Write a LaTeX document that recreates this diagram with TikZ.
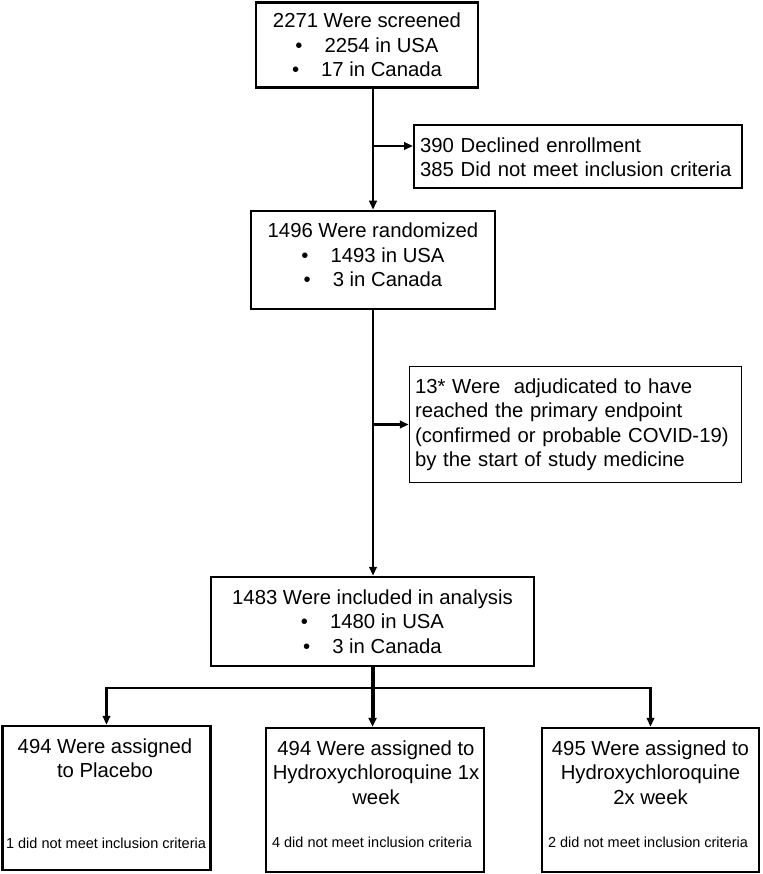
\documentclass[tikz,border=0pt]{standalone}
\usepackage{fontspec}
\setmainfont{Liberation Sans}
\usetikzlibrary{arrows.meta}
\newcommand\bulletline[1]{\textbullet\hspace{22pt}#1}
\begin{document}
\begin{tikzpicture}[x=1pt,y=-1pt,
  box/.style={draw, line width=2.5pt, inner sep=0pt, align=center,
    font=\fontsize{20.3}{24.5}\selectfont},
  lbox/.style={box, align=left},
  txt/.style={inner sep=0pt, align=center, font=\fontsize{20.3}{24.5}\selectfont},
  note/.style={inner sep=0pt, font=\fontsize{14.5}{17}\selectfont},
  conn/.style={line width=2.3pt, -{Triangle[length=9pt,width=7.5pt]}},
  thickconn/.style={line width=4pt, -{Triangle[length=9pt,width=8pt]}},
  ]
\useasboundingbox (0,0) rectangle (762,874);

\node[box, minimum width=222pt, minimum height=85pt] (screen) at (367,45)
  {2271 Were screened\\\bulletline{2254 in USA}\\\bulletline{17 in Canada}};

\node[lbox, line width=2pt, text width=316pt, inner xsep=6pt, minimum height=63pt] (declined) at (578,157)
  {390 Declined enrollment\\385 Did not meet inclusion criteria};

\node[box, minimum width=244pt, minimum height=98pt] (rand) at (373,260) {};
\node[txt] (randt) at (373,255) {1496 Were randomized\\\bulletline{1493 in USA}\\\bulletline{3 in Canada}};

\node[lbox, line width=1.5pt, text width=321pt, inner xsep=5.5pt, minimum height=116pt] (adj) at (575.5,424.5)
  {13* Were \ adjudicated to have\\reached the primary endpoint\\(confirmed or probable COVID-19)\\by the start of study medicine};

\node[box, minimum width=323pt, minimum height=89pt] (incl) at (372.5,621.5)
  {1483 Were included in analysis\\\bulletline{1480 in USA}\\\bulletline{3 in Canada}};

\node[box, minimum width=208pt, minimum height=144pt] (pla) at (106.5,798) {};
\node[box, minimum width=218pt, minimum height=144pt] (hcq1) at (375,800) {};
\node[box, minimum width=217pt, minimum height=144pt] (hcq2) at (650.5,800) {};

\node[txt] (plat) at (105,758) {494 Were assigned\\to Placebo};
\node[txt] (hcq1t) at (376,772.5) {494 Were assigned to\\Hydroxychloroquine 1x\\week};
\node[txt] (hcq2t) at (650.5,772.5) {495 Were assigned to\\Hydroxychloroquine\\2x week};
\node[note] (plan) at (106,843) {1 did not meet inclusion criteria};
\node[note] (hcq1n) at (372,842) {4 did not meet inclusion criteria};
\node[note] (hcq2n) at (648,842) {2 did not meet inclusion criteria};

\coordinate (d1) at (373,146);
\coordinate (split) at (374,688);

\draw[conn] (rand.north |- screen.south) -- (rand.north);
\draw[conn] (d1) -- (d1 -| declined.west);
\draw[conn] (rand.south) -- (rand.south |- incl.north);
\draw[conn] (rand.south |- adj.west) -- (adj.west);

\draw[line width=2.3pt, line cap=rect] (pla.north |- split) -- (hcq2.north |- split);
\draw[conn] (pla.north |- split) -- (pla.north);
\draw[conn] (hcq2.north |- split) -- (hcq2.north);
\draw[thickconn] (incl.south) -- (incl.south |- hcq1.north);
\end{tikzpicture}
\end{document}
